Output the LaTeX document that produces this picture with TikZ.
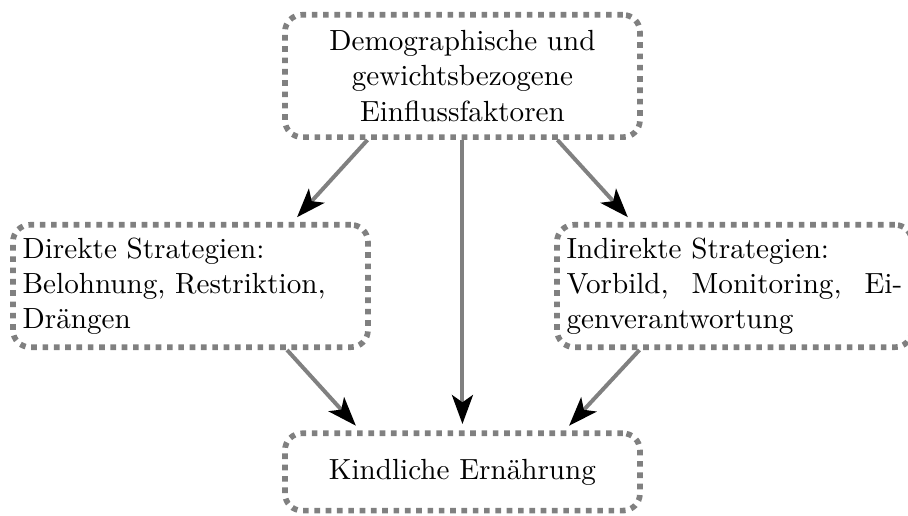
\documentclass[tikz,border=0pt]{standalone}
\usepackage{tikz}
\usetikzlibrary{
    positioning,
    arrows.meta
}
\tikzset{
    >=Stealth,
    kasten/.style={
        draw=gray,
        line width=2pt,
        dotted,
        rounded corners=6pt,
        font=\fontsize{10.3pt}{12.4pt}\selectfont,
        text width=4.17cm,
        minimum width=4.41cm,
        minimum height=1.52cm,
        inner sep=3.33pt
    },
    pfeil/.style={
        draw=gray,
        line width=1.4pt,
        shorten >=0.8mm,
        -{Stealth[black, length=3.6mm, width=2.6mm, inset=0.9mm]}
    }
}

\begin{document}
\begin{tikzpicture}

    \useasboundingbox (0,0) rectangle (11.28,6.41);

    % Einflussfaktoren
    \node[kasten, align=center] (einfluss) at (5.745,5.466)
        {Demographische und gewichtsbezogene Einflussfaktoren};

    % Strategien
    \node[kasten, align=left] (direkt) at (2.366,2.857)
        {Direkte Strategien:\\ Belohnung, Restriktion, Dr\"angen};
    \node[kasten, align=justify] (indirekt) at (9.124,2.857)
        {Indirekte Strategien:\\ Vorbild, Monitoring, Ei\-gen\-ver\-ant\-wor\-tung};

    % Ernaehrung
    \node[kasten, align=center, minimum height=0.96cm] (ernaehrung) at (5.745,0.547)
        {Kindliche Ern\"ahrung};

    % Pfeile
    \draw[pfeil] ([xshift=-1.18cm]einfluss.south) -- ([xshift=1.27cm]direkt.north);
    \draw[pfeil] (einfluss.south) -- (ernaehrung.north);
    \draw[pfeil] ([xshift=1.18cm]einfluss.south) -- ([xshift=-1.27cm]indirekt.north);
    \draw[pfeil] ([xshift=1.2cm]direkt.south) -- ([xshift=-1.27cm]ernaehrung.north);
    \draw[pfeil] ([xshift=-1.18cm]indirekt.south) -- ([xshift=1.27cm]ernaehrung.north);

\end{tikzpicture}
\end{document}
